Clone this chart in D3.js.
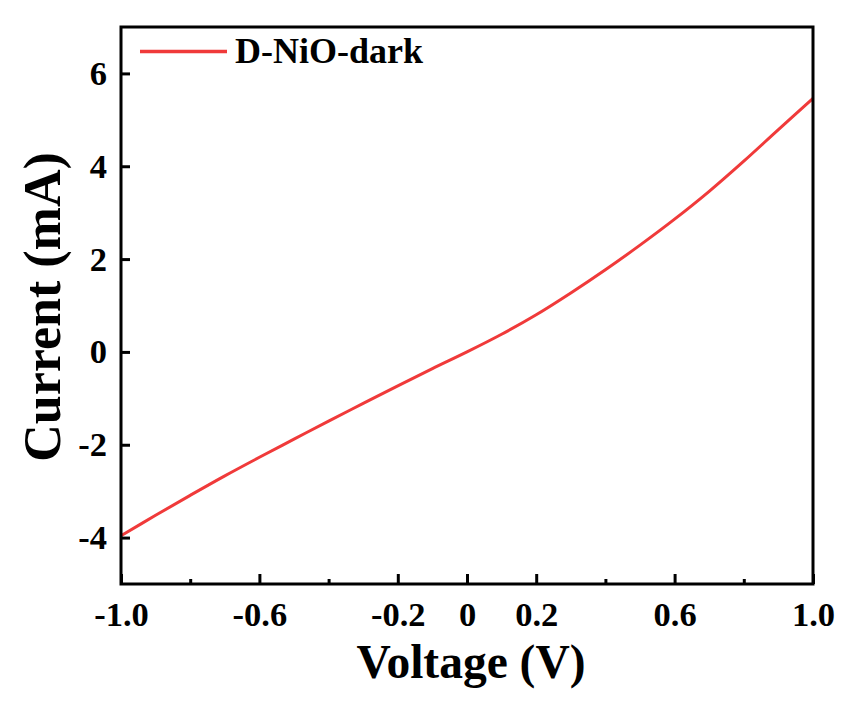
<!DOCTYPE html>
<html>
<head>
<meta charset="utf-8">
<script src="https://cdn.jsdelivr.net/npm/d3@7"></script>
<style>
  html, body { margin: 0; padding: 0; background: #ffffff; }
  svg { display: block; }
  text { font-family: "Liberation Serif", "Times New Roman", serif; font-weight: bold; fill: #000; }
</style>
</head>
<body>
<svg id="chart" width="842" height="706"></svg>
<script>
// ---- data ----
const voltage = [-1.0, -0.9, -0.8, -0.7, -0.6, -0.5, -0.4, -0.3, -0.2, -0.1, 0.0,
                 0.1, 0.2, 0.3, 0.4, 0.5, 0.6, 0.7, 0.8, 0.9, 1.0];
const current = [-3.96, -3.52, -3.09, -2.67, -2.27, -1.88, -1.49, -1.11, -0.73, -0.36, 0.0,
                 0.38, 0.80, 1.27, 1.77, 2.30, 2.86, 3.46, 4.11, 4.79, 5.46];
const seriesName = "D-NiO-dark";
const xMajorTicks = [-1.0, -0.6, -0.2, 0, 0.2, 0.6, 1.0];
const xTickLabels = ["-1.0", "-0.6", "-0.2", "0", "0.2", "0.6", "1.0"];
const xMinorTicks = [-0.8, -0.4, 0.4, 0.8];
const yTicks = [-4, -2, 0, 2, 4, 6];
const yTickLabels = ["-4", "-2", "0", "2", "4", "6"];
const xTitle = "Voltage (V)";
const yTitle = "Current (mA)";

// ---- layout ----
const L = 121, R = 813, T = 27, B = 584;
const red = "#f03a3a";
const svg = d3.select("#chart");

const x = d3.scaleLinear().domain([-1, 1]).range([L, R]);
const y = d3.scaleLinear().domain([-5, 7]).range([B, T]);

// curve
const pts = voltage.map((v, i) => [v, current[i]]);
svg.append("path")
  .datum(pts)
  .attr("fill", "none")
  .attr("stroke", red)
  .attr("stroke-width", 3)
  .attr("d", d3.line().x(d => x(d[0])).y(d => y(d[1])).curve(d3.curveCatmullRom));

// x axis (major)
const xAxis = svg.append("g").attr("transform", `translate(0,${B})`)
  .call(d3.axisBottom(x).tickValues(xMajorTicks).tickSize(-10).tickPadding(18)
    .tickFormat((d, i) => xTickLabels[i]));
// x minor
const xMinor = svg.append("g").attr("transform", `translate(0,${B})`)
  .call(d3.axisBottom(x).tickValues(xMinorTicks).tickSize(-5).tickFormat(""));
// y axis
const yAxis = svg.append("g").attr("transform", `translate(${L},0)`)
  .call(d3.axisLeft(y).tickValues(yTicks).tickSize(-9).tickPadding(14)
    .tickFormat((d, i) => yTickLabels[i]));

[xAxis, xMinor, yAxis].forEach(g => {
  g.select(".domain").remove();
  g.selectAll(".tick line").attr("stroke", "#000").attr("stroke-width", 3);
  g.selectAll(".tick text").attr("font-size", 34.5).attr("fill", "#000")
    .attr("font-family", "'Liberation Serif', 'Times New Roman', serif").attr("font-weight", "bold");
});

// frame
svg.append("rect")
  .attr("x", L).attr("y", T).attr("width", R - L).attr("height", B - T)
  .attr("fill", "none").attr("stroke", "#000").attr("stroke-width", 3);

// axis titles
svg.append("text")
  .attr("x", 471).attr("y", 678)
  .attr("text-anchor", "middle")
  .attr("font-size", 47.5)
  .text(xTitle);
svg.append("text")
  .attr("transform", "translate(60,307) rotate(-90)")
  .attr("text-anchor", "middle")
  .attr("font-size", 52)
  .text(yTitle);

// legend
svg.append("line")
  .attr("x1", 140).attr("x2", 227).attr("y1", 51.5).attr("y2", 51.5)
  .attr("stroke", red).attr("stroke-width", 3.5);
svg.append("text")
  .attr("x", 235).attr("y", 63)
  .attr("font-size", 36)
  .text(seriesName);
</script>
</body>
</html>
